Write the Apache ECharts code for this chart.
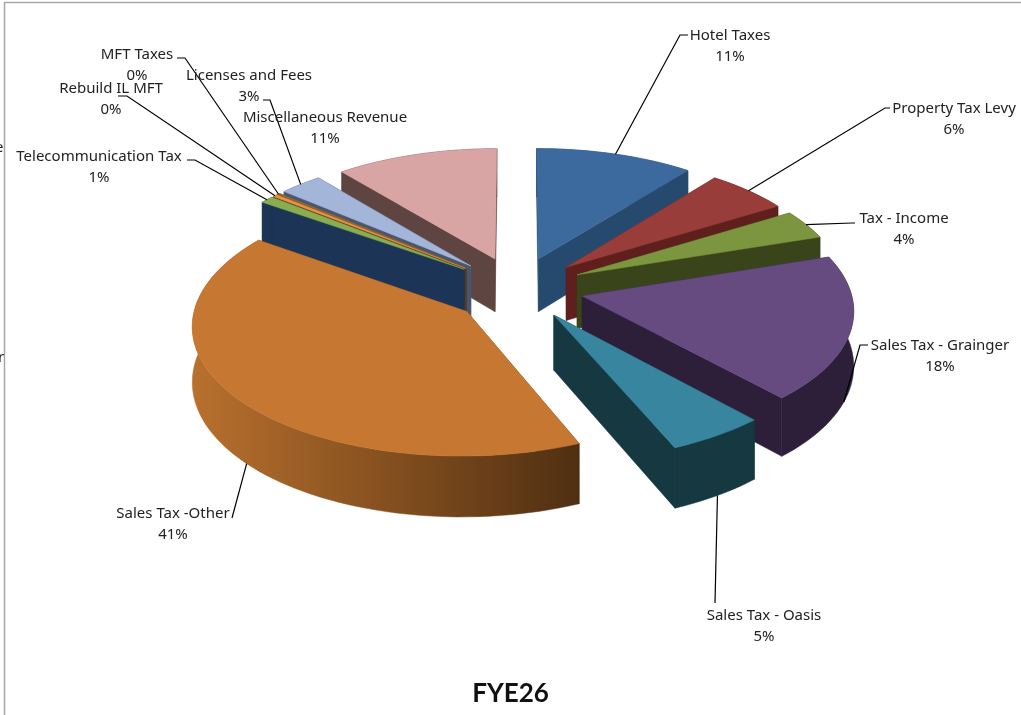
<!DOCTYPE html>
<html lang="en">
<head>
  <meta charset="UTF-8">
  <title>FYE26</title>
  <script src="https://cdn.jsdelivr.net/npm/echarts@6/dist/echarts.min.js"></script>
  <style>
    html, body { margin: 0; padding: 0; background: #fff; }
    #chart { width: 1021px; height: 715px; }
  </style>
</head>
<body>
  <div id="chart"></div>
  <script>
    // values (share of revenue, clockwise from 12 o'clock)
    const categories = ['Hotel Taxes', 'Property Tax Levy', 'Tax - Income', 'Sales Tax - Grainger', 'Sales Tax - Oasis',
      'Sales Tax -Other', 'Telecommunication Tax', 'Rebuild IL MFT', 'MFT Taxes', 'Licenses and Fees', 'Miscellaneous Revenue'];
    const values = [10.6, 5.6, 3.7, 18.4, 5.3, 41.2, 0.9, 0.3, 0.2, 2.9, 10.9];

    const topColors = ['#3D6A9E', '#983D3A', '#7C963F', '#664B80', '#38859F', '#C67832', '#8AAE4F', '#F0903F', '#8C6A3A', '#A3B5D8', '#D9A5A4'];
    const wallColors = ['#264A6E', '#5E1F1D', '#3A441B', '#2D1F3A', '#163840', '#6E421A', '#1C3556', '#5A3A20', '#4A4A2A', '#4A5670', '#5E4541'];

    // how far each slice is pulled out, in pie radii
    const explodes = [0.25, 0.25, 0.25, 0.25, 0.25, 0.26, 0.25, 0.25, 0.25, 0.25, 0.25];
    // slices that are not pulled straight along their middle
    const explodeAngles = { 'Sales Tax -Other': 225 };

    // label centre x, first line y, then the leader's fixed points after the slice anchor
    const labelX = [730, 954, 904, 940, 764, 173, 99, 111, 137, 249, 325];
    const labelY = [36, 109, 219, 346, 616, 514, 157, 89, 55, 76, 118];
    const leaders = [
      [[680, 35], [688, 35]],
      [[885, 108], [890, 108]],
      [[852, 223], [855, 223]],
      [[860, 345], [868, 345]],
      [[715, 603]],
      [[232, 518]],
      [[195, 160], [187, 160]],
      [[127, 96], [118, 96]],
      [[185, 58], [177, 58]],
      [[270, 100], [263, 100]],
      []
    ];
    // leaders that do not start at the middle of their slice's rim
    const leaderAngles = { 'Sales Tax - Grainger': 112, 'Sales Tax -Other': 228 };

    // 3D look of the pie
    const cx = 517, cy = 288, rx = 268, ry = 126, depth = 54;
    const tilt = 0.095;    // perspective strength

    const total = values.reduce((a, b) => a + b, 0);
    const rad = d => d * Math.PI / 180;

    // pie plane (u right, v to the back) to screen, drop = 1 is the bottom face
    function project(u, v, drop) {
      const p = 1 / (1 + tilt * v);
      return [cx + rx * u * p, cy - ry * v * p + depth * p * drop];
    }

    // angles of every slice
    let sum = 0;
    const slices = values.map((v, i) => {
      const start = sum / total * 360;
      sum += v;
      const end = sum / total * 360;
      const mid = (start + end) / 2;
      const pull = explodeAngles[categories[i]] || mid;
      return { start, end, mid, ou: explodes[i] * Math.sin(rad(pull)), ov: explodes[i] * Math.cos(rad(pull)) };
    });

    // back slices get painted first
    const order = slices.map((s, i) => i).sort((a, b) => Math.cos(rad(slices[b].mid)) - Math.cos(rad(slices[a].mid)));

    function rimPoint(s, a, drop) {
      return project(s.ou + Math.sin(rad(a)), s.ov + Math.cos(rad(a)), drop);
    }

    function arc(s, drop) {
      const pts = [];
      const steps = Math.max(2, Math.ceil((s.end - s.start) / 2));
      for (let i = 0; i <= steps; i++) {
        pts.push(rimPoint(s, s.start + (s.end - s.start) * i / steps, drop));
      }
      return pts;
    }

    function poly(points, color, z2) {
      return {
        type: 'polygon',
        z2: z2,
        shape: { points: points },
        style: { fill: color, stroke: color, lineWidth: 0.5 }
      };
    }

    function renderSlice(params) {
      const i = params.dataIndex;
      const s = slices[i];
      const rank = order.indexOf(i) * 10;
      const tipTop = project(s.ou, s.ov, 0);
      const tipBottom = project(s.ou, s.ov, 1);
      const top = arc(s, 0);
      const bottom = arc(s, 1);

      let rimFill = wallColors[i];
      if (categories[i] === 'Sales Tax -Other') {
        const xs = top.map(p => p[0]);
        rimFill = new echarts.graphic.LinearGradient(Math.min(...xs), 0, Math.max(...xs), 0, [
          { offset: 0, color: '#B8702E' },
          { offset: 0.5, color: '#85501F' },
          { offset: 1, color: '#4F2F12' }
        ], true);
      }

      return {
        type: 'group',
        children: [
          poly([tipTop, top[0], bottom[0], tipBottom], wallColors[i], rank),
          poly([tipTop, top[top.length - 1], bottom[bottom.length - 1], tipBottom], wallColors[i], rank + 1),
          poly(top.concat(bottom.slice().reverse()), rimFill, rank + 2),
          poly([tipTop].concat(top), topColors[i], rank + 3)
        ]
      };
    }

    function renderLabel(params) {
      const i = params.dataIndex;
      const s = slices[i];
      const children = [];
      if (leaders[i].length) {
        // front slices connect at the lower rim, back slices at the top rim
        const drop = Math.cos(rad(s.mid)) < 0 ? 1 : 0;
        const angle = leaderAngles[categories[i]] || s.mid;
        children.push({
          type: 'polyline',
          shape: { points: [rimPoint(s, angle, drop)].concat(leaders[i]) },
          style: { fill: null, stroke: '#000', lineWidth: 1.2 }
        });
      }
      const pct = Math.round(values[i] / total * 100) + '%';
      [categories[i], pct].forEach((line, n) => {
        children.push({
          type: 'text',
          x: labelX[i],
          y: labelY[i] + n * 21,
          style: {
            text: line,
            fill: '#222',
            font: '15px "Noto Sans"',
            textAlign: 'center',
            textVerticalAlign: 'middle'
          }
        });
      });
      return { type: 'group', children: children };
    }

    const chart = echarts.init(document.getElementById('chart'));
    chart.setOption({
      backgroundColor: '#fff',
      animation: false,
      title: {
        text: 'FYE26',
        left: 'center',
        top: 676,
        textStyle: { fontFamily: 'Lato', fontWeight: 'bold', fontSize: 26, color: '#111' }
      },
      graphic: [
        { type: 'polyline', shape: { points: [[4.5, 715], [4.5, 2.5], [1021, 2.5]] }, style: { fill: null, stroke: '#A6A6A6', lineWidth: 1.5 } },
        { type: 'text', x: -5, y: 140, style: { text: 'e', font: '15px "Noto Sans"', fill: '#222' } },
        { type: 'text', x: -2, y: 350, style: { text: 'r', font: '15px "Noto Sans"', fill: '#222' } }
      ],
      series: [
        { type: 'custom', coordinateSystem: 'none', data: values, renderItem: renderSlice, silent: true },
        { type: 'custom', coordinateSystem: 'none', data: values, renderItem: renderLabel, silent: true, z: 5 }
      ]
    });
  </script>
</body>
</html>
